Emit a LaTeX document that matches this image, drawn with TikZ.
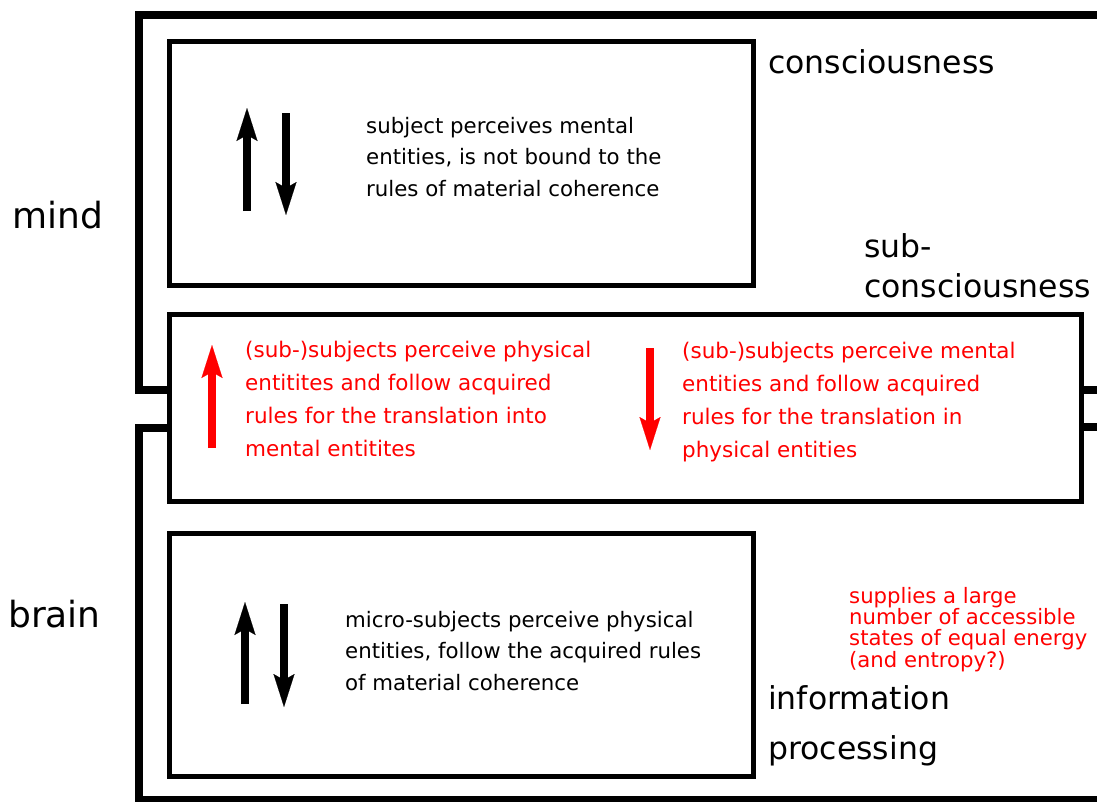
\documentclass[tikz,border=0pt]{standalone}
\usepackage{fontspec}
\setmainfont{DejaVu Sans}
\usetikzlibrary{arrows.meta}
\begin{document}
\begin{tikzpicture}[x=1pt,y=-1pt,
  box/.style={draw,line width=5pt,inner sep=0pt},
  bracket/.style={line width=8pt,line cap=butt,line join=miter},
  bigarrow/.style={line width=7.5pt,-{Stealth[length=33pt,width=21pt,inset=6pt,line width=0.1pt]}},
  body/.style={font=\fontsize{21.3}{31.5}\selectfont,align=left,anchor=base west,inner sep=0pt},
  redbody/.style={font=\fontsize{21.5}{33}\selectfont,align=left,anchor=base west,inner sep=0pt,text=red},
  small/.style={font=\fontsize{21.2}{21.3}\selectfont,align=left,anchor=base west,inner sep=0pt,text=red},
  level/.style={font=\fontsize{31.5}{40}\selectfont,align=left,anchor=base west,inner sep=0pt},
  big/.style={font=\fontsize{36}{40}\selectfont,anchor=base west,inner sep=0pt}
]
\useasboundingbox (0,0) rectangle (1097,801);

% boxes
\node[box,minimum width=583.5pt,minimum height=243.5pt] (cons) at (461.25,163.25) {};
\node[box,minimum width=911.5pt,minimum height=187.5pt] (sub) at (625.25,407.75) {};
\node[box,minimum width=583.5pt,minimum height=243pt] (brainbox) at (461.25,654.5) {};

% brackets
\draw[bracket] (1105,15) -- (139,15) -- (139,389.5) -- (sub.west |- 0,389.5);
\draw[bracket] (sub.west |- 0,427.5) -- (139,427.5) -- (139,800) -- (1105,800);
\draw[bracket] (sub.east |- 0,390) -- (1105,390);
\draw[bracket] (sub.east |- 0,427) -- (1105,427);

% arrows
\coordinate (a1s) at (247,211); \coordinate (a1e) at (247,108);
\coordinate (a2s) at (286,113); \coordinate (a2e) at (286,215);
\coordinate (a3s) at (245,704); \coordinate (a3e) at (245,602);
\coordinate (a4s) at (284,604); \coordinate (a4e) at (284,707);
\coordinate (a5s) at (212,448); \coordinate (a5e) at (212,345);
\coordinate (a6s) at (650,348); \coordinate (a6e) at (650,450);
\draw[bigarrow] (a1s) -- (a1e);
\draw[bigarrow] (a2s) -- (a2e);
\draw[bigarrow] (a3s) -- (a3e);
\draw[bigarrow] (a4s) -- (a4e);
\draw[bigarrow,red] (a5s) -- (a5e);
\draw[bigarrow,red] (a6s) -- (a6e);

% texts (anchor at the baseline of the last line)
\node[body] (t1) at (366,196) {subject perceives mental\\entities, is not bound to the\\rules of material coherence};
\node[body] (t2) at (345,690) {micro-subjects perceive physical\\entities, follow the acquired rules\\of material coherence};
\node[redbody] (t3) at (245,456) {(sub-)subjects perceive physical\\entitites and follow acquired\\rules for the translation into\\mental entitites};
\node[redbody] (t4) at (682,457) {(sub-)subjects perceive mental\\entities and follow acquired\\rules for the translation in\\physical entities};
\node[small] (t5) at (849,667) {supplies a large\\number of accessible\\states of equal energy\\(and entropy?)};

\node[level] (l1) at (768,73) {consciousness};
\node[level] (l2) at (864,297) {sub-\\consciousness};
\node[level,font=\fontsize{31.5}{50}\selectfont] (l3) at (768,759) {information\\processing};
\node[big] (mind) at (12,228) {mind};
\node[big] (brain) at (8,627) {brain};
\end{tikzpicture}
\end{document}
